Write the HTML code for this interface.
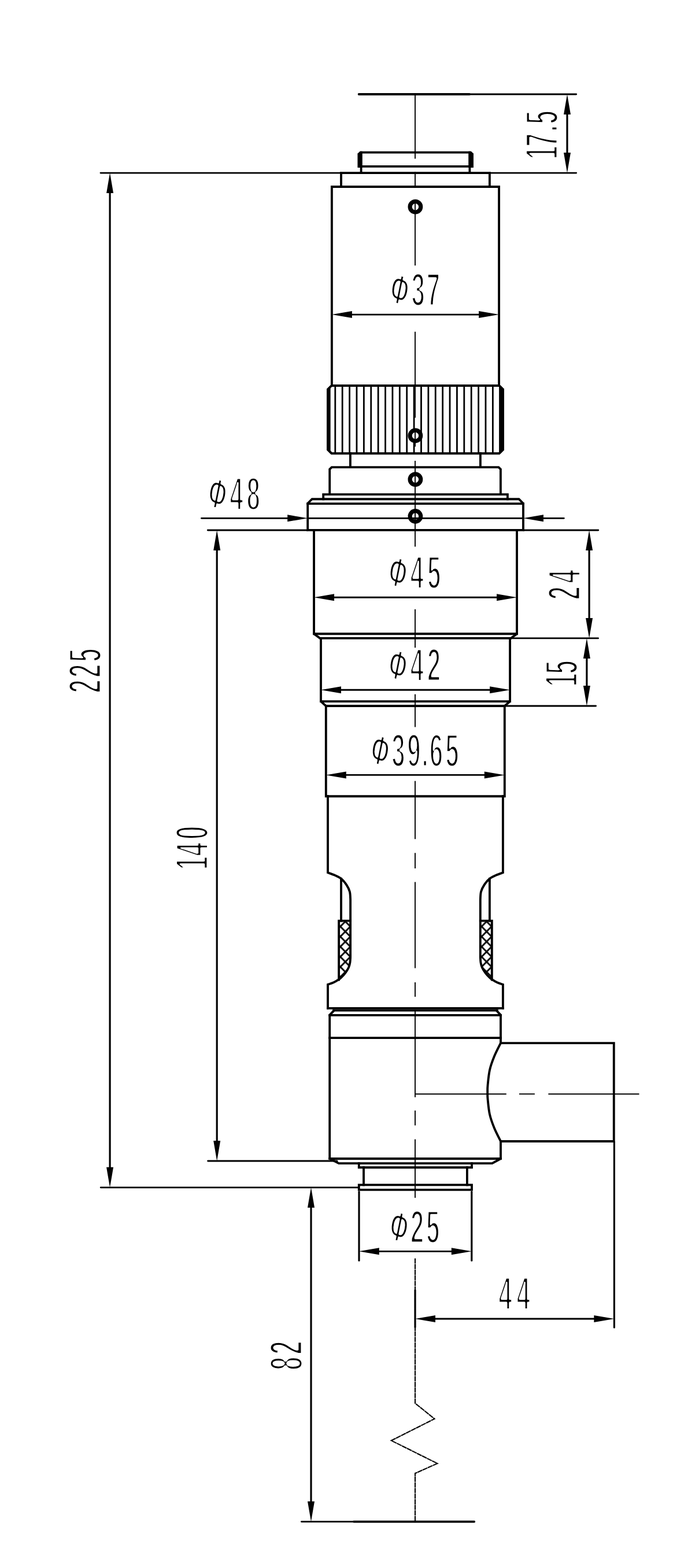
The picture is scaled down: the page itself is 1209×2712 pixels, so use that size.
<!DOCTYPE html>
<html lang="en"><head><meta charset="utf-8"><title>Dimension drawing</title>
<style>
html,body{margin:0;padding:0;background:#fff;}
svg{display:block;}
path{fill:none;stroke:#000;}
.k{stroke-width:3.85;stroke-linecap:square;stroke-linejoin:miter;}
.kb{stroke-width:3.85;stroke-linecap:round;}
.kf{fill:#000;stroke-width:3.85;stroke-linejoin:miter;}
.kn{stroke-width:2.8;}
.n{stroke-width:2.85;stroke-linecap:round;}
.nv{stroke-width:3.2;stroke-linecap:round;}
.c{stroke-width:1.9;}
.z{stroke-width:2.1;stroke-dasharray:9 0.7;}
.a{fill:#000;stroke:none;}
.o{fill:#fff;stroke:#000;stroke-width:7.2;}
.h{fill:url(#hatch);stroke:none;}
.t,.p{font-family:"Liberation Sans",sans-serif;font-weight:bold;fill:#000;stroke:#fff;stroke-linejoin:round;}
.t{font-size:81.1px;stroke-width:5.1;}
.p{font-size:100px;stroke-width:6.2;}
</style></head>
<body>
<svg width="1209" height="2712" viewBox="0 0 1209 2712">
<defs><pattern id="hatch" width="17.45" height="17.45" patternUnits="userSpaceOnUse" patternTransform="translate(588.57,1602.48)"><rect width="17.45" height="17.45" fill="#fff"/><path d="M-1,-1L18.45,18.45M18.45,-1L-1,18.45" stroke="#000" stroke-width="2.9" fill="none"/></pattern></defs>
<rect width="1209" height="2712" fill="#fff"/>
<g id="labels">
<g><text class="p" transform="matrix(0.3527,0.1350,-0.1429,0.7145,672.02,520.26)">Φ</text><text class="t" transform="translate(0,528.7) scale(0.52,1)" x="1368.27 1418.64" y="0">37</text></g>
<g><text class="p" transform="matrix(0.3527,0.1350,-0.1429,0.7145,356.97,873.06)">Φ</text><text class="t" transform="translate(0,881.5) scale(0.52,1)" x="764.07 820.2" y="0">48</text></g>
<g><text class="p" transform="matrix(0.3527,0.1350,-0.1429,0.7145,668.97,1009.26)">Φ</text><text class="t" transform="translate(0,1017.7) scale(0.52,1)" x="1364.26 1421.08" y="0">45</text></g>
<g><text class="p" transform="matrix(0.3527,0.1350,-0.1429,0.7145,668.97,1169.66)">Φ</text><text class="t" transform="translate(0,1178.1) scale(0.52,1)" x="1364.26 1420.65" y="0">42</text></g>
<g><text class="p" transform="matrix(0.3527,0.1350,-0.1429,0.7145,638.37,1317.16)">Φ</text><text class="t" transform="translate(0,1325.6) scale(0.52,1)" x="1302.6 1354.18 1402.33 1428.2 1481.18" y="0">39.65</text></g>
<g><text class="p" transform="matrix(0.3527,0.1350,-0.1429,0.7145,671.07,2141.06)">Φ</text><text class="t" transform="translate(0,2149.5) scale(0.52,1)" x="1365.07 1417.23" y="0">25</text></g>
<text class="t" transform="translate(0,2265.4) scale(0.52,1)" x="1658.11 1718.49" y="0">44</text>
<text class="t" transform="translate(965.25,0) rotate(-90) scale(0.52,1)" x="-530.52 -488.38 -438.34 -413.15" y="0">17.5</text>
<text class="t" transform="translate(175.45,0) rotate(-90) scale(0.52,1)" x="-2305.12 -2253.78 -2201.9" y="0">225</text>
<text class="t" transform="translate(360.4,0) rotate(-90) scale(0.52,1)" x="-2893.21 -2847.56 -2792.3" y="0">140</text>
<text class="t" transform="translate(1004.4,0) rotate(-90) scale(0.52,1)" x="-1995.12 -1939.97" y="0">24</text>
<text class="t" transform="translate(999.35,0) rotate(-90) scale(0.52,1)" x="-2284.17 -2242" y="0">15</text>
<text class="t" transform="translate(522.6,0) rotate(-90) scale(0.52,1)" x="-4557.69 -4505.51" y="0">82</text>
</g>
<g id="centre">
<path class="c" d="M718,163L718,274.5"/>
<path class="c" d="M718,297.3L718,323"/>
<path class="c" d="M718,357.7L718,459.2"/>
<path class="c" d="M718,573.8L718,722.4"/>
<path class="c" d="M718,741L718,772.6"/>
<path class="c" d="M718,797.1L718,945.5"/>
<path class="c" d="M718,1053.8L718,1120.2"/>
<path class="c" d="M718,1200.7L718,1257.5"/>
<path class="c" d="M718,1350.8L718,1451.3"/>
<path class="c" d="M718,1475.3L718,1502"/>
<path class="c" d="M718,1525.4L718,1674.5"/>
<path class="c" d="M718,1699L718,1724"/>
<path class="c" d="M718,1749L718,1897.7"/>
<path class="c" d="M718,1920.8L718,1946.6"/>
<path class="c" d="M718,1970.6L718,2071.7"/>
<path class="c" d="M718,1892.2L875.8,1892.2"/>
<path class="c" d="M898,1892.2L924.9,1892.2"/>
<path class="c" d="M948.4,1892.2L1105.5,1892.2"/>
</g>
<g id="ext">
<path class="n" d="M813,163L996.7,163"/>
<path class="n" d="M174,299.1L590,299.1"/>
<path class="n" d="M846.9,299.1L996.7,299.1"/>
<path class="n" d="M359.3,917L532,917"/>
<path class="n" d="M905,917L1034.8,917"/>
<path class="n" d="M883,1103.9L1034.6,1103.9"/>
<path class="n" d="M873,1221L1030.6,1221"/>
<path class="n" d="M359.6,2008L583,2008"/>
<path class="n" d="M174.2,2053.8L620,2053.8"/>
<path class="nv" d="M621,2061.3L621,2180.2"/>
<path class="nv" d="M815.8,2061.3L815.8,2180.2"/>
<path class="nv" d="M1062.4,1975L1062.4,2296"/>
<path class="nv" d="M718,2231.5L718,2295.6"/>
<path class="n" d="M521.4,2631.8L611,2631.8"/>
</g>
<g id="body">
<path class="kb" d="M620.7,163H811.9"/>
<path class="k" d="M620.6,287.8L620.6,266.4L623.4,263.6L814.1,263.6L816.9,266.4L816.9,287.8Z"/>
<path class="k" d="M624.6,263.6L624.6,299.1"/>
<path class="k" d="M812.4,263.6L812.4,299.1"/>
<path class="kf" d="M620.6,267L624.6,267L624.6,288L620.6,288Z"/>
<path class="kf" d="M816.9,267L812.4,267L812.4,288L816.9,288Z"/>
<path class="k" d="M590,299.1L590,323L846.9,323L846.9,299.1L590,299.1Z"/>
<path class="k" d="M573.9,667L573.9,323L863.1,323L863.1,667"/>
<path class="k" d="M567,673.5L573.5,667L863.5,667L870,673.5L870,777.7L863.5,784.2L573.5,784.2L567,777.7Z"/>
<path class="kf" d="M567,673.5L569.7,670.8L569.7,780.4L567,777.7Z"/>
<path class="kf" d="M870,673.5L867.3,670.8L867.3,780.4L870,777.7Z"/>
<path class="kn" d="M579.79,667.0V784.2M592.18,667.0V784.2M604.57,667.0V784.2M616.96,667.0V784.2M629.35,667.0V784.2M641.74,667.0V784.2M654.13,667.0V784.2M666.52,667.0V784.2M678.91,667.0V784.2M691.3,667.0V784.2M703.69,667.0V784.2M716.08,667.0V784.2M728.47,667.0V784.2M740.86,667.0V784.2M753.25,667.0V784.2M765.64,667.0V784.2M778.03,667.0V784.2M790.42,667.0V784.2M802.81,667.0V784.2M815.2,667.0V784.2M827.59,667.0V784.2M839.98,667.0V784.2M852.37,667.0V784.2"/>
<path class="kn" d="M864.5,669.0V782.2"/>
<path class="k" d="M605.9,784.2L605.9,808.1"/>
<path class="k" d="M830.9,784.2L830.9,808.1"/>
<path class="k" d="M570.2,855.1L570.2,811.6L573.7,808.1L862.4,808.1L865.9,811.6L865.9,855.1"/>
<path class="k" d="M559.2,863.2L559.2,855.1L877.9,855.1L877.9,863.2"/>
<path class="k" d="M532.2,916.9L532.2,870.7L539.7,863.2L897.5,863.2L905,870.7L905,916.9L532.2,916.9Z"/>
<path class="k" d="M532.2,871.1L905,871.1"/>
<path class="k" d="M543.05,917L543.05,1096.2L553.3,1103.9L883.8,1103.9L894.05,1096.2L894.05,917"/>
<path class="k" d="M543.05,1096.2L894.05,1096.2"/>
<path class="k" d="M555,1103.9L555,1213.1L563.8,1221L872.8,1221L882.1,1213.1L882.1,1103.9"/>
<path class="k" d="M555,1213.1L882.1,1213.1"/>
<path class="k" d="M563.8,1221L563.8,1377.2L872.8,1377.2L872.8,1221"/>
<path class="h" d="M586.1,1592.6L606.1,1592.6L606.1,1655.8L605.4,1665L603,1673.5L597.3,1682.8L590,1690.8L584.7,1694.8L586.1,1694Z"/>
<path class="h" d="M850.8,1592.6L830.8,1592.6L830.8,1655.8L831.5,1665L833.9,1673.5L839.6,1682.8L846.9,1690.8L852.2,1694.8L850.8,1694Z"/>
<path class="k" d="M567,1377.2L567,1509.3C568.9,1510 574.57,1511.75 578.4,1513.5C582.23,1515.25 586.5,1516.95 590,1519.8C593.5,1522.65 596.92,1526.85 599.4,1530.6C601.88,1534.35 603.78,1538.15 604.9,1542.3C606.02,1546.45 605.9,1553.3 606.1,1555.5L606.1,1655.8C605.98,1657.33 605.92,1662.05 605.4,1665C604.88,1667.95 604.35,1670.53 603,1673.5C601.65,1676.47 599.47,1679.92 597.3,1682.8C595.13,1685.68 592.1,1688.8 590,1690.8C587.9,1692.8 586.97,1693.33 584.7,1694.8C582.43,1696.27 579.35,1698.27 576.4,1699.6C573.45,1700.93 568.57,1702.27 567,1702.8L567,1743.9"/>
<path class="k" d="M869.9,1377.2L869.9,1509.3C868,1510 862.33,1511.75 858.5,1513.5C854.67,1515.25 850.4,1516.95 846.9,1519.8C843.4,1522.65 839.98,1526.85 837.5,1530.6C835.02,1534.35 833.12,1538.15 832,1542.3C830.88,1546.45 831,1553.3 830.8,1555.5L830.8,1655.8C830.92,1657.33 830.98,1662.05 831.5,1665C832.02,1667.95 832.55,1670.53 833.9,1673.5C835.25,1676.47 837.43,1679.92 839.6,1682.8C841.77,1685.68 844.8,1688.8 846.9,1690.8C849,1692.8 849.93,1693.33 852.2,1694.8C854.47,1696.27 857.55,1698.27 860.5,1699.6C863.45,1700.93 868.33,1702.27 869.9,1702.8L869.9,1743.9"/>
<path class="k" d="M590,1519.8L590,1592.6"/>
<path class="k" d="M846.9,1519.8L846.9,1592.6"/>
<path class="k" d="M586.1,1694.5L586.1,1592.6L606.1,1592.6"/>
<path class="k" d="M850.8,1694.5L850.8,1592.6L830.8,1592.6"/>
<path class="k" d="M567,1743.9H869.9"/>
<path class="k" d="M577,1747.6H860"/>
<path class="k" d="M577.7,1747.8L570.2,1755.6L570.2,2004L586,2012.1L851.3,2012.1L866,2004L866,1974"/>
<path class="k" d="M858.8,1747.8L866,1755.6L866,1804.1"/>
<path class="k" d="M570.2,1755.9L866,1755.9"/>
<path class="k" d="M570.2,1795.1L866,1795.1"/>
<path class="k" d="M570.2,2004L866,2004"/>
<path class="k" d="M866,1804.1L1061.8,1804.1L1061.8,1974L866,1974"/>
<path class="k" d="M866,1804.1C864.15,1807.93 858.07,1819.33 854.9,1827.1C851.73,1834.87 848.88,1842.42 847,1850.7C845.12,1858.98 844.23,1870.42 843.6,1876.8C842.97,1883.18 843.2,1884.92 843.2,1889C843.2,1893.08 842.97,1894.9 843.6,1901.3C844.23,1907.7 845.12,1919.12 847,1927.4C848.88,1935.68 851.73,1943.23 854.9,1951C858.07,1958.77 864.15,1970.17 866,1974"/>
<path class="k" d="M620.8,2012.1L620.8,2019.2L816,2019.2L816,2012.1"/>
<path class="k" d="M629,2019.2L629,2049.4"/>
<path class="k" d="M807.9,2019.2L807.9,2049.4"/>
<path class="k" d="M620.8,2049.4L620.8,2057.9L816,2057.9L816,2049.4L620.8,2049.4Z"/>
<path class="kb" d="M612,2631.8H820.2"/>
</g>
<path class="z" d="M718,2176.5L718,2427L751.5,2454L676.8,2491.6L756.5,2531.2L718,2548.3L718,2631"/>
<g id="holes">
<circle class="o" cx="718.4" cy="357.7" r="9.3"/>
<path class="c" d="M718,351.7L718,363.7"/>
<circle class="o" cx="718.4" cy="753.5" r="9.3"/>
<path class="c" d="M718,747.5L718,759.5"/>
<circle class="o" cx="718.4" cy="829.2" r="9.3"/>
<path class="c" d="M718,823.2L718,835.2"/>
<circle class="o" cx="718.4" cy="893" r="9.3"/>
<path class="c" d="M718,887L718,899"/>
</g>
<g id="dims">
<path class="nv" d="M981,197L981,265.1"/>
<polygon class="a" points="981,163 975,198 987,198"/>
<polygon class="a" points="981,299.1 975,264.1 987,264.1"/>
<path class="nv" d="M190.1,333.1L190.1,2019.8"/>
<polygon class="a" points="190.1,299.1 184.1,334.1 196.1,334.1"/>
<polygon class="a" points="190.1,2053.8 184.1,2018.8 196.1,2018.8"/>
<path class="nv" d="M375.2,951L375.2,1974"/>
<polygon class="a" points="375.2,917 369.2,952 381.2,952"/>
<polygon class="a" points="375.2,2008 369.2,1973 381.2,1973"/>
<path class="nv" d="M1019.1,951L1019.1,1069.9"/>
<polygon class="a" points="1019.1,917 1013.1,952 1025.1,952"/>
<polygon class="a" points="1019.1,1103.9 1013.1,1068.9 1025.1,1068.9"/>
<path class="nv" d="M1014.9,1137.9L1014.9,1187"/>
<polygon class="a" points="1014.9,1103.9 1008.9,1138.9 1020.9,1138.9"/>
<polygon class="a" points="1014.9,1221 1008.9,1186 1020.9,1186"/>
<path class="nv" d="M538,2087.8L538,2597.8"/>
<polygon class="a" points="538,2053.8 532,2088.8 544,2088.8"/>
<polygon class="a" points="538,2631.8 532,2596.8 544,2596.8"/>
<path class="n" d="M607.9,544.1L829.1,544.1"/>
<polygon class="a" points="573.9,544.1 608.9,538.1 608.9,550.1"/>
<polygon class="a" points="863.1,544.1 828.1,538.1 828.1,550.1"/>
<path class="n" d="M577.05,1033.2L860.05,1033.2"/>
<polygon class="a" points="543.05,1033.2 578.05,1027.2 578.05,1039.2"/>
<polygon class="a" points="894.05,1033.2 859.05,1027.2 859.05,1039.2"/>
<path class="n" d="M589,1193.2L848.1,1193.2"/>
<polygon class="a" points="555,1193.2 590,1187.2 590,1199.2"/>
<polygon class="a" points="882.1,1193.2 847.1,1187.2 847.1,1199.2"/>
<path class="n" d="M597.8,1340.4L838.8,1340.4"/>
<polygon class="a" points="563.8,1340.4 598.8,1334.4 598.8,1346.4"/>
<polygon class="a" points="872.8,1340.4 837.8,1334.4 837.8,1346.4"/>
<path class="n" d="M654.8,2164.3L781.8,2164.3"/>
<polygon class="a" points="620.8,2164.3 655.8,2158.3 655.8,2170.3"/>
<polygon class="a" points="815.8,2164.3 780.8,2158.3 780.8,2170.3"/>
<path class="n" d="M752,2281L1028.4,2281"/>
<polygon class="a" points="718,2281 753,2275 753,2287"/>
<polygon class="a" points="1062.4,2281 1027.4,2275 1027.4,2287"/>
<path class="n" d="M348.5,896.3L498.2,896.3"/>
<polygon class="a" points="532.2,896.3 497.2,890.3 497.2,902.3"/>
<path class="n" d="M532.2,896.3L905,896.3"/>
<path class="n" d="M939,896.3L975.3,896.3"/>
<polygon class="a" points="905,896.3 940,890.3 940,902.3"/>
</g>
</svg>
</body></html>
